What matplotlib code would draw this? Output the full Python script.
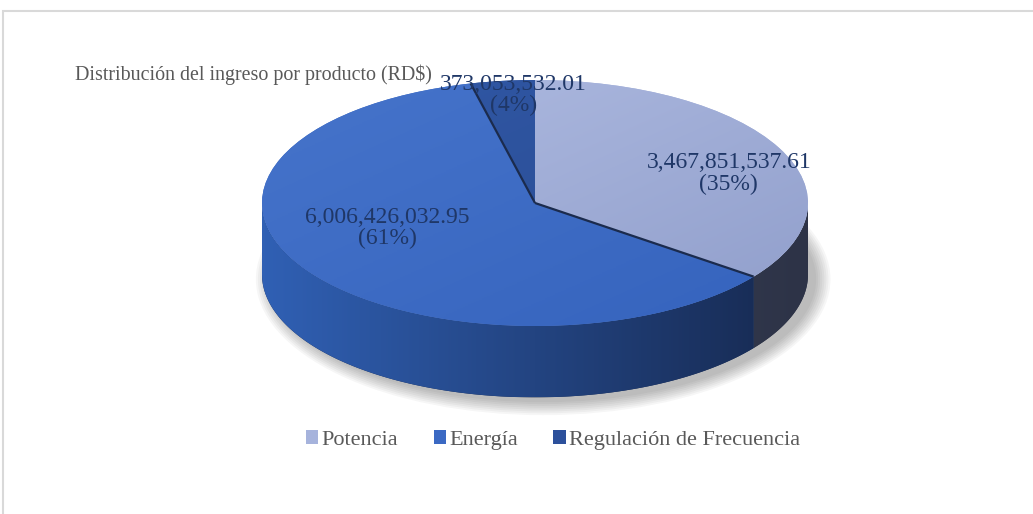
import numpy as np
import matplotlib
matplotlib.use("Agg")
import matplotlib.pyplot as plt
from matplotlib.colors import LinearSegmentedColormap
from matplotlib.patches import Polygon, Ellipse, Rectangle

plt.rcParams['font.family'] = ['Liberation Serif', 'DejaVu Serif']

# datos
titulo = "Distribución del ingreso por producto (RD$)"
productos = ["Potencia", "Energía", "Regulación de Frecuencia"]
ingresos = [3467851537.61, 6006426032.95, 373053532.01]
colores = ["#a6b3dc", "#3b69c3", "#2c509b"]

# colores del degradado (arriba: claro->oscuro, lateral: izquierda->derecha)
tapa = [("#b0bce2", "#909ecb"), ("#4674cb", "#3563bd"), ("#3158a6", "#284b91")]
lado = [("#454d66", "#2d3347"), ("#3060b4", "#16284e"), ("#223f78", "#15254a")]

# posiciones de las etiquetas (coordenadas de datos)
pos_etiquetas = [(0.71, 0.24), (-0.54, -0.20), (-0.08, 0.88)]

prof = 0.58  # grosor del pastel

fig = plt.figure(figsize=(10.33, 5.14), dpi=100)
ax = fig.add_axes([0, 0, 1, 1])

# sombra
for k in range(8):
    ax.add_patch(Ellipse((0.03, -prof - 0.04), 2.0 + 0.015 * k, 2.0 + 0.03 * k,
                         color="#000000", alpha=0.035, lw=0, zorder=0))

wedges, _ = ax.pie(ingresos, colors=colores, startangle=90, counterclock=False,
                   radius=1, wedgeprops=dict(linewidth=0))

# degradado horizontal para los laterales
gx = np.tile(np.linspace(0, 1, 300), (2, 1))

# laterales visibles (mitad frontal)
for w, (c1, c2) in zip(wedges, lado):
    t = np.linspace(w.theta1, w.theta2, 400)
    t = t[np.sin(np.radians(t)) <= 0.001]
    if len(t) < 2:
        continue
    r = np.radians(t)
    arriba = np.column_stack([np.cos(r), np.sin(r)])
    abajo = (arriba - [0, prof])[::-1]
    lat = Polygon(np.vstack([arriba, abajo]), closed=True, facecolor=c2, lw=0, zorder=1)
    ax.add_patch(lat)
    cmap = LinearSegmentedColormap.from_list("l", [c1, c2])
    im = ax.imshow(gx, extent=(-1, 1, -1 - prof, 0), cmap=cmap, aspect="auto",
                   zorder=1.5, interpolation="bilinear")
    im.set_clip_path(lat)

# degradado en la tapa
xx, yy = np.meshgrid(np.linspace(0, 1, 200), np.linspace(0, 1, 200))
grad = (xx + yy) / 2
for w, (c1, c2) in zip(wedges, tapa):
    w.set_zorder(2)
    cmap = LinearSegmentedColormap.from_list("g", [c1, c2])
    im = ax.imshow(grad, extent=(-1, 1, -1, 1), origin="upper", cmap=cmap,
                   aspect="auto", zorder=3, interpolation="bilinear")
    im.set_clip_path(w)

# lineas oscuras entre porciones
for ang in [wedges[1].theta1, wedges[1].theta2]:
    r = np.radians(ang)
    ax.plot([0, np.cos(r)], [0, np.sin(r)], color="#1b2b4d", lw=1.6, zorder=4,
            solid_capstyle="butt")

# etiquetas
total = sum(ingresos)
for v, (x, y) in zip(ingresos, pos_etiquetas):
    ax.text(x, y, f"{v:,.2f}\n({v / total * 100:.0f}%)", ha="center", va="center",
            fontsize=17, color="#1f3767", linespacing=1.0, zorder=5)

ax.set_aspect("auto")
ax.set_xlim(-535 / 273, (1033 - 535) / 273)
ax.set_ylim((203 - 514) / 123, 203 / 123)
ax.axis("off")

fig.text(75 / 1033, 1 - 75 / 514, titulo, fontsize=14.4, color="#595959",
         ha="left", va="center")

fig.legend(wedges, productos, loc="center", bbox_to_anchor=(553 / 1033, 1 - 440 / 514),
           ncol=3, frameon=False, fontsize=16, handlelength=0.55, handleheight=0.55,
           handletextpad=0.15, columnspacing=1.6, labelcolor="#595959")

# borde del gráfico
fig.patches.append(Rectangle((3 / 1033, -0.1), 1.2, 1 - 11 / 514 + 0.1,
                             transform=fig.transFigure, fill=False,
                             edgecolor="#d9d9d9", lw=1.5))

fig.savefig("out.png", dpi=100)
